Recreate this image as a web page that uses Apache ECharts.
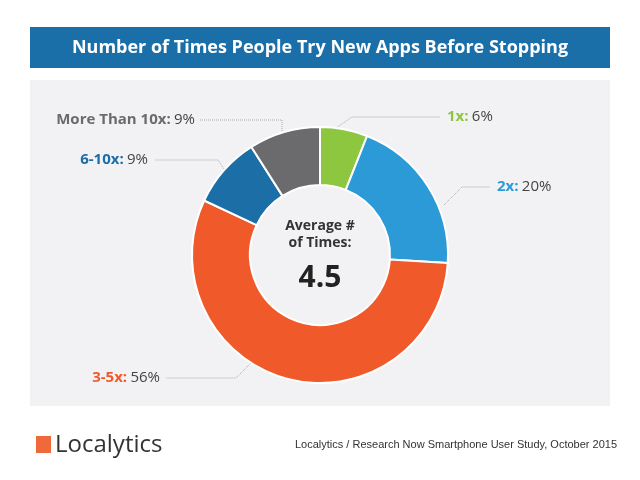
<!DOCTYPE html>
<html><head><meta charset="utf-8">
<script src="https://cdn.jsdelivr.net/npm/echarts@6/dist/echarts.min.js"></script>
<style>html,body{margin:0;padding:0;background:#fff}#c{width:640px;height:480px}</style>
</head><body><div id="c"></div>
<script>
const categories = ['1x', '2x', '3-5x', '6-10x', 'More Than 10x'];
const values = [6, 20, 56, 9, 9];
const colors = ['#8dc63f', '#2b9ad6', '#f05a2a', '#1c6ea6', '#6b6b6e'];
const labelColors = ['#8dc63f', '#2b9ad6', '#f05a2a', '#1c6ea6', '#6b6b6e'];

const lay = [
  {x: 447, y: 117, align: 'left', pts: [[336, 128], [352, 117], [440, 117]]},
  {x: 497, y: 187, align: 'left', pts: [[444, 205], [462, 187], [490, 187]]},
  {x: 160, y: 378, align: 'right', pts: [[252, 362], [236, 378], [166, 378]]},
  {x: 148, y: 160, align: 'right', pts: [[226, 172], [218, 160], [155, 160]]},
  {x: 195, y: 120, align: 'right', pts: [[282, 131], [282, 120], [200, 120]]}
];

const chart = echarts.init(document.getElementById('c'));
chart.setOption({
  backgroundColor: '#fff',
  graphic: [
    {type: 'rect', shape: {x: 30, y: 27, width: 580, height: 41}, style: {fill: '#1b6fa9'}},
    {type: 'text', x: 320, y: 48, style: {text: 'Number of Times People Try New Apps Before Stopping', fill: '#fff', font: 'bold 18px "Open Sans", sans-serif', align: 'center', verticalAlign: 'middle'}},
    {type: 'rect', z: -10, shape: {x: 30, y: 80, width: 580, height: 326}, style: {fill: '#f2f2f4'}},
    {type: 'text', x: 320, y: 235, style: {text: 'Average #\nof Times:', fill: '#333', font: 'bold 14px "Open Sans", sans-serif', align: 'center', verticalAlign: 'middle', lineHeight: 17}},
    {type: 'text', x: 320, y: 278, style: {text: '4.5', fill: '#222', font: 'bold 30px "Open Sans", sans-serif', align: 'center', verticalAlign: 'middle'}},
    {type: 'rect', shape: {x: 36, y: 436, width: 15, height: 17}, style: {fill: '#f0693a'}},
    {type: 'text', x: 55, y: 445, style: {text: 'Localytics', fill: '#333', font: '24px "Open Sans", sans-serif', verticalAlign: 'middle'}},
    {type: 'text', x: 617, y: 445, style: {text: 'Localytics / Research Now Smartphone User Study, October 2015', fill: '#333', font: '11px "Liberation Sans", sans-serif', align: 'right', verticalAlign: 'middle'}}
  ],
  series: [{
    type: 'pie',
    center: [320, 255],
    radius: [70, 128],
    startAngle: 90,
    clockwise: true,
    itemStyle: {borderColor: '#fff', borderWidth: 2},
    emphasis: {disabled: true},
    data: categories.map((c, i) => ({
      name: c, value: values[i], itemStyle: {color: colors[i]},
      label: {rich: {n: {color: labelColors[i], fontWeight: 'bold', fontSize: 15, fontFamily: 'Open Sans'}, v: {color: '#444', fontSize: 15, fontFamily: 'Open Sans'}}}
    })),
    label: {show: true, formatter: p => '{n|' + p.name + ':} {v|' + p.value + '%}'},
    labelLine: {show: true, lineStyle: {color: '#aaa', type: 'dotted', width: 1}},
    labelLayout: p => {
      const l = lay[p.dataIndex];
      return {x: l.x, y: l.y, align: l.align, verticalAlign: 'middle', labelLinePoints: l.pts};
    }
  }]
});
</script></body></html>
